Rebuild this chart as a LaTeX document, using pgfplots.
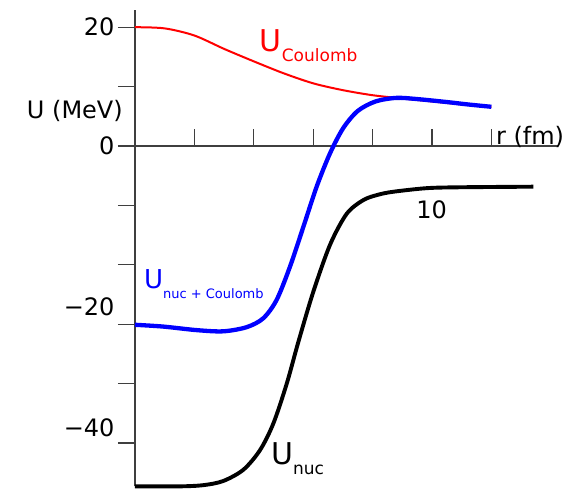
\documentclass[border=0pt]{standalone}
\usepackage{fontspec}
\setmainfont{DejaVu Sans}
\usepackage{pgfplots}
\pgfplotsset{compat=1.18}
\definecolor{axgray}{HTML}{3F3F3F}

\begin{document}
\begin{tikzpicture}
\begin{axis}[
    x=29.7pt, y=5.94pt,
    axis lines=middle,
    axis line style={-, draw=axgray, line width=2pt},
    xmin=0, xmax=14.23,
    ymin=-57.3, ymax=22.9,
    xtick={2,4,...,12}, xticklabels={},
    ytick={-50,-40,...,20},
    yticklabels={,,,,,0,,20},
    extra y ticks={-27.05,-47.5},
    extra y tick labels={−20,−40},
    extra y tick style={tick style={draw=none}},
    hide obscured y ticks=false,
    tick align=outside,
    major tick length=17pt,
    tick style={draw=axgray, line width=1.3pt},
    x tick style={yshift=17pt},
    ticklabel style={font=\fontsize{24}{24}\selectfont, text=black},
    clip=false,
]

% page frame, same margins as the reference
\path (axis cs:-4.545,24.58) rectangle (axis cs:14.95,-57.58);

% Coulomb potential
\addplot[red, line width=2pt, smooth] coordinates {
    (0,20) (1,19.8) (2,18.6) (3,16.35) (4,14.25) (5,12.25) (6,10.55)
    (7,9.4) (8,8.55) (9,8.0) (10,7.5) (11,7.0) (12,6.6)
};

% nuclear potential
\addplot[black, line width=3.9pt, smooth] coordinates {
    (0,-57.3) (1.5,-57.3) (2.3,-57.1) (2.97,-56.4) (3.65,-54.5) (4.21,-51.2)
    (4.66,-46.7) (5.11,-40) (5.5,-33) (6,-24.6) (6.57,-16.6) (7.13,-11.4)
    (7.69,-9.1) (8.19,-8.2) (8.7,-7.7) (9.82,-7.1) (10.94,-6.95) (13.41,-6.85)
};

% sum
\addplot[blue, line width=4.3pt, smooth] coordinates {
    (0,-30.1) (0.95,-30.4) (2.08,-31.0) (2.97,-31.2) (3.76,-30.5) (4.32,-29.0)
    (4.77,-25.9) (5.22,-20.3) (5.67,-13.6) (6.12,-6.8) (6.57,-1.2) (7.01,3.0)
    (7.5,5.9) (8.1,7.5) (8.8,8.1) (9.5,7.9) (10.5,7.4) (11.2,7.0) (12,6.6)
};

\node[anchor=base west, inner sep=0, text=red] at (axis cs:4.2,15.9)
    {\fontsize{30}{30}\selectfont U\raisebox{-10pt}{\fontsize{17}{17}\selectfont Coulomb}};
\node[anchor=base west, inner sep=0, text=blue] at (axis cs:0.3,-23.96)
    {\fontsize{26}{26}\selectfont U\raisebox{-10pt}{\fontsize{13}{13}\selectfont nuc + Coulomb}};
\node[anchor=base west, inner sep=0] at (axis cs:4.58,-53.7)
    {\fontsize{30}{30}\selectfont U\raisebox{-10pt}{\fontsize{17}{17}\selectfont nuc}};
\node[font=\fontsize{24}{24}\selectfont] at (axis cs:9.99,-10.77) {10};
\node[anchor=base west, inner sep=0, font=\fontsize{24}{24}\selectfont] at (axis cs:12.15,0.17) {r (fm)};
\node[anchor=east, inner sep=0, font=\fontsize{24}{24}\selectfont] at (axis cs:-0.404,5.9) {U (MeV)};

\end{axis}
\end{tikzpicture}
\end{document}
